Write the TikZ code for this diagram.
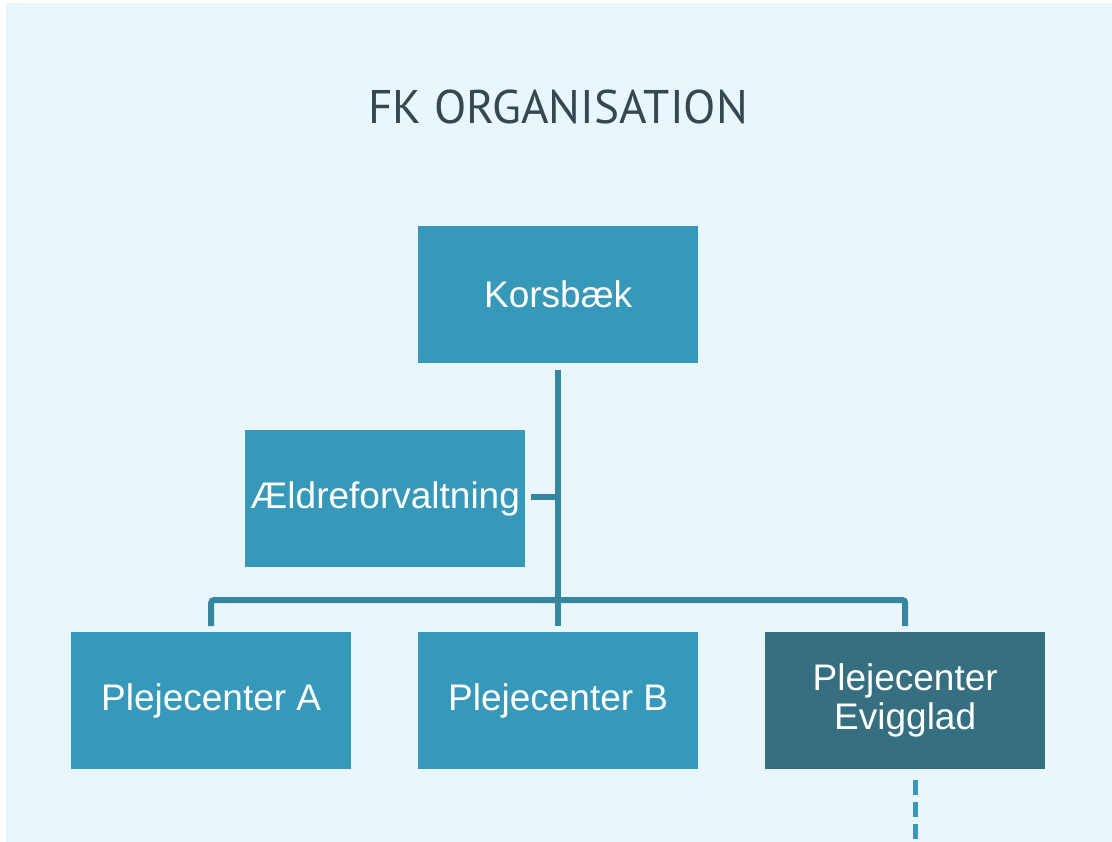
\documentclass[tikz,border=0pt]{standalone}
\usepackage{fontspec}
\setmainfont{Liberation Sans}
\newfontfamily\titlefont{PT Sans}
\definecolor{bgblue}{HTML}{E9F7FD}
\definecolor{boxblue}{HTML}{3799B9}
\definecolor{boxdark}{HTML}{366F80}
\definecolor{linecol}{HTML}{35869E}
\definecolor{titlecol}{HTML}{37474F}
\tikzset{
  orgbox/.style={fill=boxblue, draw=none, minimum width=280pt, minimum height=137pt, inner sep=0pt, text=white, font=\fontsize{37}{39}\selectfont, align=center, anchor=north west},
  darkbox/.style={orgbox, fill=boxdark},
  conn/.style={draw=linecol, line width=6pt, rounded corners=3pt},
}
\begin{document}
\begin{tikzpicture}[x=1pt,y=-1pt]
\useasboundingbox (0,0) rectangle (1112,842);
\fill[white] (0,0) rectangle (1112,842);
\fill[bgblue] (6,3) rectangle (1112,842);
\node[text=titlecol, font=\titlefont\fontsize{47.2}{50}\selectfont] (title) at (558,107) {FK ORGANISATION};
\node[orgbox] (kors) at (418,226) {Korsbæk};
\node[orgbox] (aeld) at (245,430) {Ældreforvaltning};
\node[orgbox] (pa) at (71,632) {Plejecenter A};
\node[orgbox] (pb) at (418,632) {Plejecenter B};
\node[darkbox] (pe) at (765,632) {Plejecenter\\Evigglad};
\coordinate (bus) at (558,600);
\coordinate (busL) at (pa.north |- bus);
\coordinate (busR) at (pe.north |- bus);
\coordinate (aj) at (558,497);
\draw[conn] ([yshift=-7pt]kors.south) -- ([yshift=6pt]pb.north);
\draw[conn] ([yshift=6pt]busL |- pa.north) -- (busL) -- (busR) -- ([yshift=6pt]busR |- pe.north);
\draw[conn] (aj) -- ([xshift=6pt]aj -| aeld.east);
\draw[draw=boxblue, line width=5pt, dash pattern=on 15pt off 7pt] ([xshift=150pt,yshift=-11pt]pe.south west) -- ([xshift=150pt]pe.south west |- 0,842);
\end{tikzpicture}
\end{document}
